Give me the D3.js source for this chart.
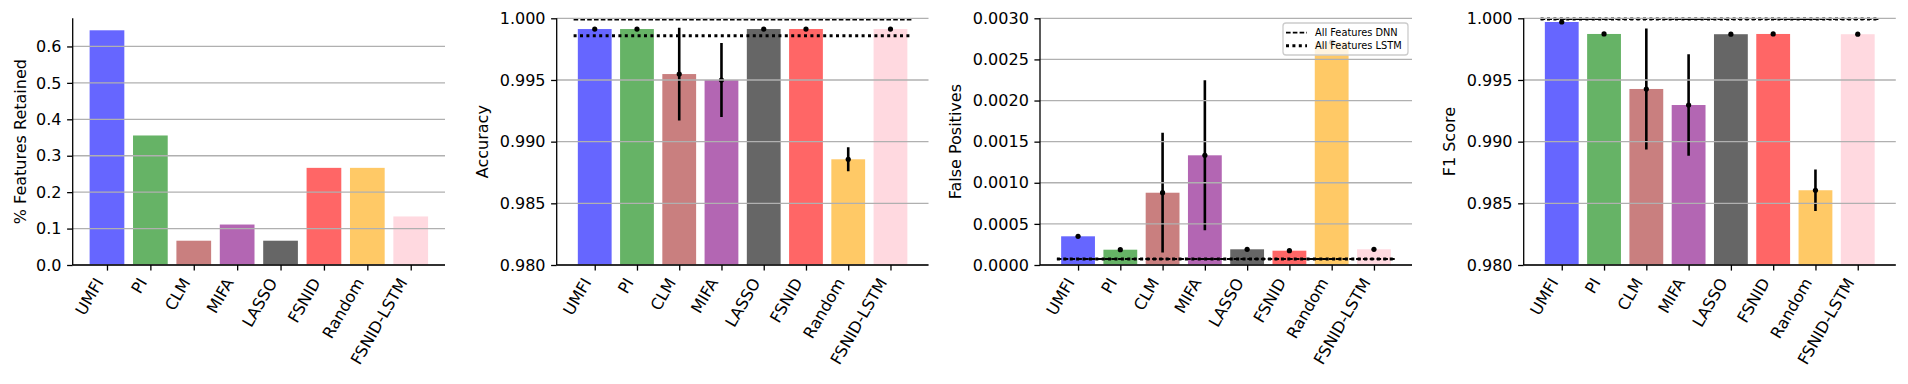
<!DOCTYPE html>
<html>
<head>
<meta charset="utf-8">
<script src="https://cdn.jsdelivr.net/npm/d3@7/dist/d3.min.js"></script>
<style>
  html, body { margin: 0; padding: 0; background: #fff; }
  svg { display: block; font-family: "DejaVu Sans", sans-serif; }
</style>
</head>
<body>
<svg id="chart" width="1908" height="384"></svg>
<script>
// ---------- data ----------
const categories = ["UMFI", "PI", "CLM", "MIFA", "LASSO", "FSNID", "Random", "FSNID-LSTM"];
const barColors = ["blue", "green", "brown", "purple", "black", "red", "orange", "pink"];

const featuresRetained = [0.6444, 0.3556, 0.0667, 0.1111, 0.0667, 0.2667, 0.2667, 0.1333];

const accuracy    = [0.99913, 0.99913, 0.99548, 0.99500, 0.99913, 0.99913, 0.98857, 0.99913];
const accuracyErr = [0, 0, 0.00376, 0.00300, 0, 0, 0.00097, 0];

const falsePositives    = [0.000349, 0.000186, 0.000879, 0.001334, 0.000191, 0.000174, 0.00271, 0.000191];
const falsePositivesErr = [0, 0, 0.000728, 0.000912, 0, 0, 0, 0];

const f1Score    = [0.99970, 0.99873, 0.99427, 0.99297, 0.99871, 0.99873, 0.98606, 0.99871];
const f1ScoreErr = [0, 0, 0.00490, 0.00411, 0, 0, 0.00169, 0];

const allFeaturesDNN  = { acc: 0.99989, fp: 0.000073, f1: 0.99994 };
const allFeaturesLSTM = { acc: 0.99859, fp: 0.000073, f1: 0.99994 };

const featTicks = [0, 0.1, 0.2, 0.3, 0.4, 0.5, 0.6];
const accTicks  = [0.980, 0.985, 0.990, 0.995, 1.000];
const fpTicks   = [0, 0.0005, 0.0010, 0.0015, 0.0020, 0.0025, 0.0030];
const f1Ticks   = [0.980, 0.985, 0.990, 0.995, 1.000];

const legendLabels = ["All Features DNN", "All Features LSTM"];

// ---------- layout ----------
const svg = d3.select("#chart");
const FS = 16;
const plotTop = 18.3, plotBottom = 265;
const panels = [
  { left: 72.7,   right: 445,    xdom: [-0.79, 7.79], ydom: [0, 0.6773], ticks: featTicks, fmt: ".1f",
    label: "% Features Retained", labelX: 26, values: featuresRetained, err: null },
  { left: 556.7,  right: 928.5,  xdom: [-0.9, 7.9], ydom: [0.98, 1.0], ticks: accTicks, fmt: ".3f",
    label: "Accuracy", labelX: 488, values: accuracy, err: accuracyErr,
    dnn: allFeaturesDNN.acc, lstm: allFeaturesLSTM.acc },
  { left: 1040,   right: 1412,   xdom: [-0.9, 7.9], ydom: [0, 0.003], ticks: fpTicks, fmt: ".4f",
    label: "False Positives", labelX: 961, values: falsePositives, err: falsePositivesErr,
    dnn: allFeaturesDNN.fp, lstm: allFeaturesLSTM.fp, legend: true },
  { left: 1523.7, right: 1895.8, xdom: [-0.9, 7.9], ydom: [0.98, 1.0], ticks: f1Ticks, fmt: ".3f",
    label: "F1 Score", labelX: 1454.5, values: f1Score, err: f1ScoreErr,
    dnn: allFeaturesDNN.f1, lstm: allFeaturesLSTM.f1 }
];

const defs = svg.append("defs");
const DASH = "4.6,2.2", DOT = "3,3.4";

panels.forEach((p, pi) => {
  const x = d3.scaleLinear().domain(p.xdom).range([p.left, p.right]);
  const y = d3.scaleLinear().domain(p.ydom).range([plotBottom, plotTop]);
  const g = svg.append("g");
  const pts = p.values.map((v, i) => ({ i, v, e: p.err ? p.err[i] : 0 }));

  defs.append("clipPath").attr("id", "clip" + pi)
    .append("rect").attr("x", p.left).attr("y", plotTop - 3)
    .attr("width", p.right - p.left).attr("height", plotBottom - plotTop + 3);

  const plot = g.append("g").attr("clip-path", `url(#clip${pi})`);

  // bars
  plot.selectAll("rect.bar").data(pts).join("rect")
    .attr("class", "bar")
    .attr("x", d => x(d.i - 0.4))
    .attr("width", d => x(d.i + 0.4) - x(d.i - 0.4))
    .attr("y", d => y(d.v))
    .attr("height", d => y(p.ydom[0]) - y(d.v))
    .attr("fill", d => barColors[d.i])
    .attr("fill-opacity", 0.6);

  // grid (drawn above bars, like matplotlib default)
  g.append("g").selectAll("line").data(p.ticks).join("line")
    .attr("x1", p.left).attr("x2", p.right)
    .attr("y1", d => y(d)).attr("y2", d => y(d))
    .attr("stroke", "#b0b0b0").attr("stroke-width", 1.3);

  // reference lines
  if (p.dnn !== undefined) {
    plot.append("line")
      .attr("x1", x(-0.5)).attr("x2", x(7.5))
      .attr("y1", y(p.dnn)).attr("y2", y(p.dnn))
      .attr("stroke", "#000").attr("stroke-width", 1.8)
      .attr("stroke-dasharray", DASH);
    plot.append("line")
      .attr("x1", x(-0.5)).attr("x2", x(7.5))
      .attr("y1", y(p.lstm)).attr("y2", y(p.lstm))
      .attr("stroke", "#000").attr("stroke-width", 3)
      .attr("stroke-dasharray", DOT);
  }

  // error bars + dots
  if (p.err) {
    plot.selectAll("line.err").data(pts.filter(d => d.e > 0)).join("line")
      .attr("class", "err")
      .attr("x1", d => x(d.i)).attr("x2", d => x(d.i))
      .attr("y1", d => y(d.v - d.e)).attr("y2", d => y(d.v + d.e))
      .attr("stroke", "#000").attr("stroke-width", 2.6);
    plot.selectAll("circle.dot").data(pts).join("circle")
      .attr("class", "dot")
      .attr("cx", d => x(d.i)).attr("cy", d => y(d.v))
      .attr("r", 2.6).attr("fill", "#000");
  }

  // y axis
  const yAxis = d3.axisLeft(y).tickValues(p.ticks).tickFormat(d3.format(p.fmt))
    .tickSize(5.6).tickPadding(5.6);
  const ya = g.append("g").attr("transform", `translate(${p.left},0)`).call(yAxis);
  ya.select(".domain").attr("d", `M0,${plotTop}V${plotBottom}`).attr("stroke", "#000").attr("stroke-width", 1.3);
  ya.selectAll(".tick line").attr("stroke", "#000").attr("stroke-width", 1.3);
  ya.selectAll(".tick text").attr("font-size", FS).attr("fill", "#000")
    .attr("font-family", "DejaVu Sans");

  // x axis
  const xAxis = d3.axisBottom(x).tickValues(d3.range(categories.length))
    .tickFormat(i => categories[i]).tickSize(5.6);
  const xa = g.append("g").attr("transform", `translate(0,${plotBottom})`).call(xAxis);
  xa.select(".domain").attr("d", `M${p.left},0H${p.right}`).attr("stroke", "#000").attr("stroke-width", 1.3);
  xa.selectAll(".tick line").attr("stroke", "#000").attr("stroke-width", 1.3);
  const asc = 0.76 * FS, dsc = 0.24 * FS;
  xa.selectAll(".tick text")
    .attr("font-size", FS).attr("fill", "#000").attr("font-family", "DejaVu Sans")
    .attr("text-anchor", "end")
    .attr("x", 0).attr("y", 0).attr("dy", null)
    .attr("transform", `translate(${-0.866 * dsc},${11.2 + 0.5 * asc}) rotate(-60)`);

  // y label
  g.append("text")
    .attr("transform", `translate(${p.labelX},${(plotTop + plotBottom) / 2}) rotate(-90)`)
    .attr("text-anchor", "middle")
    .attr("font-size", FS).attr("fill", "#000")
    .text(p.label);

  // legend
  if (p.legend) {
    const lx = 1283, ly = 23, lw = 125, lh = 32;
    const lg = g.append("g");
    lg.append("rect").attr("x", lx).attr("y", ly).attr("width", lw).attr("height", lh)
      .attr("rx", 3).attr("fill", "#fff").attr("fill-opacity", 0.8)
      .attr("stroke", "#cccccc").attr("stroke-width", 1.3);
    const rows = [
      { label: legendLabels[0], w: 1.8, dash: DASH },
      { label: legendLabels[1], w: 3, dash: DOT }
    ];
    rows.forEach((r, k) => {
      const cy = 32.7 + k * 13;
      lg.append("line").attr("x1", 1286).attr("x2", 1307).attr("y1", cy).attr("y2", cy)
        .attr("stroke", "#000").attr("stroke-width", r.w).attr("stroke-dasharray", r.dash);
      lg.append("text").attr("x", 1315).attr("y", cy).attr("dy", "0.35em")
        .attr("font-size", 9.8).attr("fill", "#000").text(r.label);
    });
  }
});
</script>
</body>
</html>
